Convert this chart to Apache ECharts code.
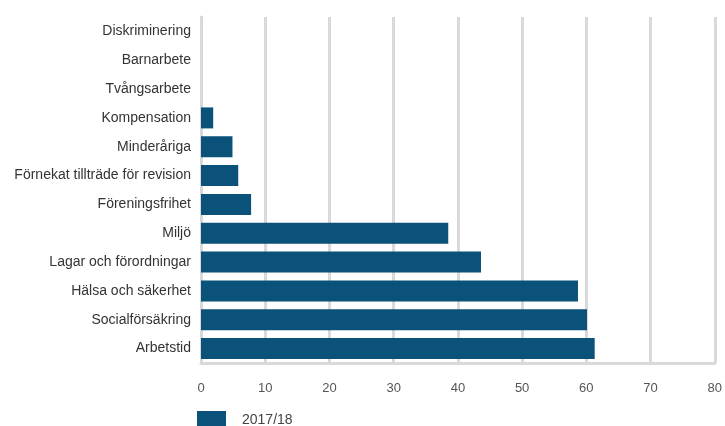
<!DOCTYPE html>
<html><head><meta charset="utf-8">
<script src="https://cdn.jsdelivr.net/npm/echarts@6/dist/echarts.min.js"></script>
<style>html,body{margin:0;padding:0;background:#fff}#c{width:725px;height:426px}</style>
</head><body><div id="c"></div>
<script>
var categories = ["Diskriminering","Barnarbete","Tvångsarbete","Kompensation","Minderåriga","Förnekat tillträde för revision","Föreningsfrihet","Miljö","Lagar och förordningar","Hälsa och säkerhet","Socialförsäkring","Arbetstid"];
var values2017 = [0,0,0,1.9,4.9,5.8,7.8,38.5,43.6,58.7,60.1,61.3];
var seriesName = "2017/18";
var xTicks = {min:0,max:80,interval:10};

var chart = echarts.init(document.getElementById('c'));
chart.setOption({
  animation:false,
  textStyle:{fontFamily:'Liberation Sans, Arial, sans-serif'},
  grid:{left:201,right:4,top:17,bottom:63,containLabel:false},
  legend:{
    left:197, top:411, padding:0, itemWidth:29, itemHeight:18, icon:'rect',
    data:[seriesName],
    textStyle:{color:'#444',fontSize:14,padding:[7,0,0,11]}
  },
  xAxis:{
    type:'value', min:xTicks.min, max:xTicks.max, interval:xTicks.interval,
    axisLine:{show:true,lineStyle:{color:'#d9d9d9',width:3}},
    axisTick:{show:false},
    axisLabel:{color:'#555',fontSize:13,margin:19},
    splitLine:{show:true,lineStyle:{color:'#d9d9d9',width:3}}
  },
  yAxis:{
    type:'category', inverse:true, data:categories,
    axisLine:{show:true,lineStyle:{color:'#d9d9d9',width:3}},
    axisTick:{show:false},
    axisLabel:{color:'#333',fontSize:14,margin:10}
  },
  series:[{
    name:seriesName, type:'bar', data:values2017,
    barWidth:21, itemStyle:{color:'#0a5279'}
  }]
});
</script></body></html>
